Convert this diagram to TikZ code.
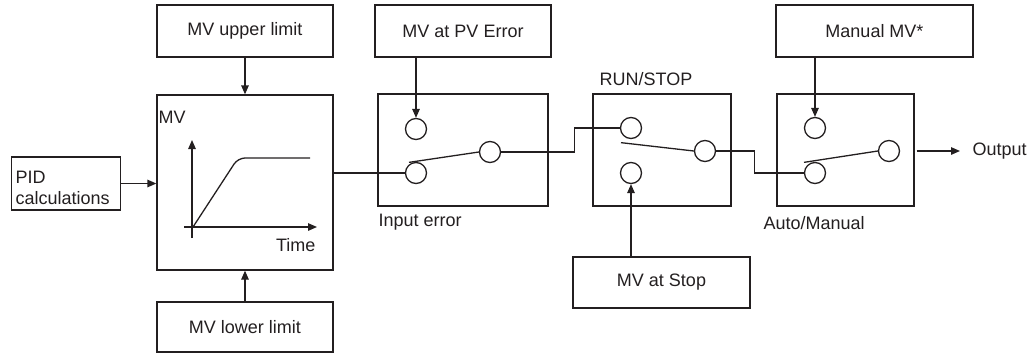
\documentclass[tikz,border=0pt]{standalone}
\usepackage{fontspec}
\setmainfont{Liberation Sans}
\usetikzlibrary{arrows.meta,calc}
\definecolor{ink}{HTML}{231F20}
\begin{document}
\begin{tikzpicture}[x=1pt,y=-1pt,line width=1.3pt,color=ink,
  every node/.style={font=\fontsize{18}{21}\selectfont,text=ink},
  box/.style={draw,rectangle,inner sep=0pt},
  sw/.style={draw,circle,minimum size=21pt,inner sep=0pt},
  lbl/.style={inner sep=0pt},
  arr/.style={-{Triangle[length=9pt,width=7.5pt]}}]
\useasboundingbox (0,0) rectangle (1034,354);
% boxes
\node[box,minimum width=176pt,minimum height=52pt] (upper) at (245,31) {MV upper limit};
\node[box,minimum width=176pt,minimum height=175pt] (main) at (245,182.5) {};
\node[box,minimum width=176pt,minimum height=50pt] (lower) at (245,327) {MV lower limit};
\node[box,minimum width=109pt,minimum height=53pt,anchor=west] (pid) at (11,183.5) {};
\node[lbl,align=left,anchor=west] (pidt) at (15,188) {PID\\calculations};
\node[box,minimum width=176pt,minimum height=52pt] (pverr) at (463,31) {MV at PV Error};
\node[box,minimum width=170pt,minimum height=112pt] (iebox) at (463,150) {};
\node[box,minimum width=138pt,minimum height=112pt] (rsbox) at (662,150) {};
\node[box,minimum width=177pt,minimum height=51pt] (stop) at (661.5,282.5) {MV at Stop};
\node[box,minimum width=197pt,minimum height=52pt] (manual) at (874.5,31) {Manual MV*};
\node[box,minimum width=137pt,minimum height=112pt] (ambox) at (845.5,150) {};
% labels
\node[lbl,anchor=west] (mvl) at (158,117) {MV};
\node[lbl,anchor=east] (timel) at (316,245) {Time};
\node[lbl,anchor=west] (iel) at (378,222) {Input error};
\node[lbl,anchor=west] (rsl) at (599,79) {RUN/STOP};
\node[lbl,anchor=west] (aml) at (763,223) {Auto/Manual};
\node[lbl,anchor=west] (out) at (972,151) {Output};
% switch contacts
\node[sw] (ie1) at (416,129) {};
\node[sw] (ie2) at (416,173) {};
\node[sw] (ie3) at (490,152) {};
\node[sw] (rs1) at (631,128) {};
\node[sw] (rs2) at (631,173) {};
\node[sw] (rs3) at (705,151) {};
\node[sw] (am1) at (815,128) {};
\node[sw] (am2) at (815,173) {};
\node[sw] (am3) at (889,151) {};
% graph inside main box
\coordinate (yb) at (192,238);
\coordinate (yt) at (192,140);
\coordinate (xl) at (184,227);
\coordinate (xr) at (317,227);
\draw[arr] (yb) -- (yt);
\draw[arr] (xl) -- (xr);
\draw[rounded corners=7pt] (193,227) -- (238,158) -- (310,158);
% connectors
\draw[arr] (upper.south) -- (main.north);
\draw[arr] (lower.north) -- (main.south);
\draw[arr] (pid.east) -- (main.west |- pid.east);
\draw (main.east |- ie2) -- (ie2.west);
\draw[arr] (pverr.south -| ie1) -- (ie1.north);
\draw ($(ie2.north)+(-7,0.5)$) -- (ie3.west);
\draw (ie3.east) -- ++(73,0) |- (rs1.west);
\draw ($(rs1.south)+(-10,3.5)$) -- (rs3.west);
\draw[arr] (stop.north -| rs2) -- (rs2.south);
\draw (rs3.east) -- ++(38.5,0) |- (am2.west);
\draw[arr] (manual.south -| am1) -- (am1.north);
\draw ($(am2.north)+(-11,0.5)$) -- (am3.west);
\draw[arr,shorten >=12pt] ($(ambox.east |- am3)+(2,0)$) -- (out.west);
\end{tikzpicture}
\end{document}
